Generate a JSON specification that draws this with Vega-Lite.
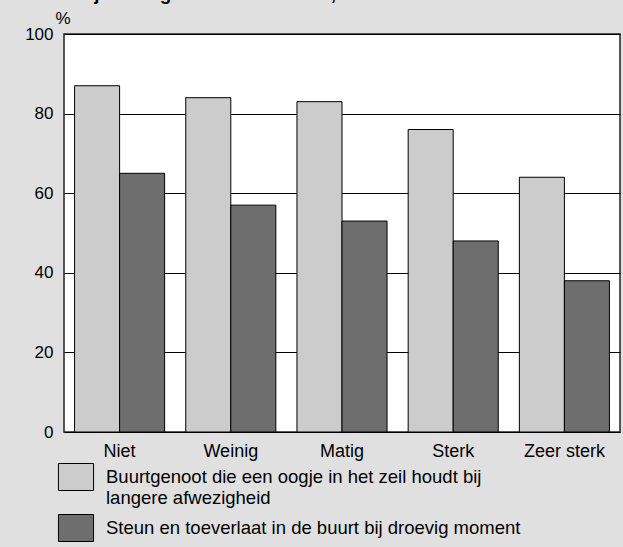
{
  "$schema": "https://vega.github.io/schema/vega-lite/v6.json",
  "autosize": "none",
  "width": 556,
  "height": 398,
  "padding": {"left": 64, "top": 34, "right": 3, "bottom": 115},
  "background": "#e0e0e0",
  "title": {
    "text": "Stedelijkheidsgraad van de buurt, 2006",
    "anchor": "start",
    "frame": "group",
    "fontSize": 19,
    "fontWeight": "bold",
    "font": "Liberation Sans",
    "color": "black",
    "baseline": "alphabetic",
    "offset": 0,
    "dx": -32,
    "dy": 10
  },
  "config": {
    "font": "Liberation Sans",
    "view": {"fill": "white", "stroke": "#222222", "strokeWidth": 1.5},
    "axis": {"labelFont": "Liberation Sans", "labelFontSize": 17, "labelColor": "black", "titleFont": "Liberation Sans"}
  },
  "data": {
    "values": [
      {"graad": "Niet", "reeks": "Buurtgenoot die een oogje in het zeil houdt bij langere afwezigheid", "pct": 87},
      {"graad": "Niet", "reeks": "Steun en toeverlaat in de buurt bij droevig moment", "pct": 65},
      {"graad": "Weinig", "reeks": "Buurtgenoot die een oogje in het zeil houdt bij langere afwezigheid", "pct": 84},
      {"graad": "Weinig", "reeks": "Steun en toeverlaat in de buurt bij droevig moment", "pct": 57},
      {"graad": "Matig", "reeks": "Buurtgenoot die een oogje in het zeil houdt bij langere afwezigheid", "pct": 83},
      {"graad": "Matig", "reeks": "Steun en toeverlaat in de buurt bij droevig moment", "pct": 53},
      {"graad": "Sterk", "reeks": "Buurtgenoot die een oogje in het zeil houdt bij langere afwezigheid", "pct": 76},
      {"graad": "Sterk", "reeks": "Steun en toeverlaat in de buurt bij droevig moment", "pct": 48},
      {"graad": "Zeer sterk", "reeks": "Buurtgenoot die een oogje in het zeil houdt bij langere afwezigheid", "pct": 64},
      {"graad": "Zeer sterk", "reeks": "Steun en toeverlaat in de buurt bij droevig moment", "pct": 38}
    ]
  },
  "mark": {"type": "bar", "stroke": "black", "strokeWidth": 1},
  "encoding": {
    "x": {
      "field": "graad",
      "type": "nominal",
      "sort": ["Niet", "Weinig", "Matig", "Sterk", "Zeer sterk"],
      "scale": {"paddingInner": 0.19, "paddingOuter": 0.095},
      "axis": {"title": null, "labelAngle": 0, "ticks": false, "domain": false, "labelPadding": 19, "labelFontSize": 18, "labelBaseline": "middle", "labelOffset": 0}
    },
    "xOffset": {
      "field": "reeks",
      "type": "nominal",
      "sort": ["Buurtgenoot die een oogje in het zeil houdt bij langere afwezigheid", "Steun en toeverlaat in de buurt bij droevig moment"]
    },
    "y": {
      "field": "pct",
      "type": "quantitative",
      "scale": {"domain": [0, 100], "nice": false},
      "axis": {
        "values": [0, 20, 40, 60, 80, 100],
        "grid": true,
        "gridColor": "black",
        "gridWidth": 1,
        "gridOpacity": 1,
        "ticks": false,
        "domain": false,
        "labelPadding": 11,
        "title": "%",
        "titleAngle": 0,
        "titleFontSize": 17,
        "titleFontWeight": "normal",
        "titleColor": "black",
        "titleAlign": "left",
        "titleBaseline": "bottom",
        "titleX": -9,
        "titleY": -7
      }
    },
    "color": {
      "field": "reeks",
      "type": "nominal",
      "sort": ["Buurtgenoot die een oogje in het zeil houdt bij langere afwezigheid", "Steun en toeverlaat in de buurt bij droevig moment"],
      "scale": {"range": ["#cccccc", "#6e6e6e"]},
      "legend": {
        "title": null,
        "orient": "none",
        "legendX": -2,
        "legendY": 429,
        "direction": "vertical",
        "symbolType": "M-1.3,-1H1.3V1H-1.3Z",
        "symbolSize": 729,
        "symbolStrokeColor": "black",
        "symbolStrokeWidth": 1,
        "symbolOpacity": 1,
        "labelFont": "Liberation Sans",
        "labelFontSize": 18.5,
        "labelColor": "black",
        "labelLimit": 600,
        "labelOffset": 16,
        "labelBaseline": "middle",
        "rowPadding": 5,
        "labelExpr": "datum.label == 'Buurtgenoot die een oogje in het zeil houdt bij langere afwezigheid' ? ['Buurtgenoot die een oogje in het zeil houdt bij', 'langere afwezigheid'] : datum.label"
      }
    }
  }
}
